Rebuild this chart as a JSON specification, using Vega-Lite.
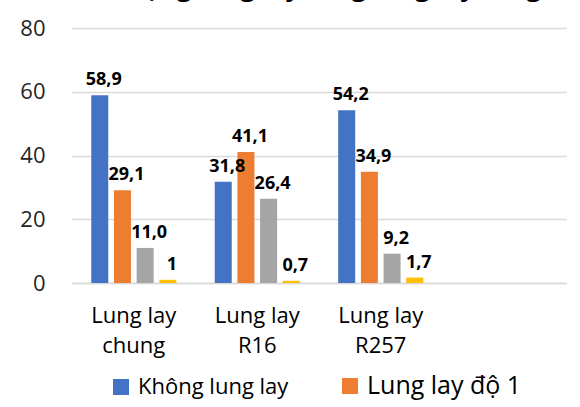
{
  "$schema": "https://vega.github.io/schema/vega-lite/v6.json",
  "autosize": {"type": "none"},
  "width": 494,
  "height": 255,
  "padding": {"left": 72, "top": 28, "right": 14, "bottom": 124},
  "background": "white",
  "config": {"view": {"stroke": null}},
  "title": {
    "text": "Tình trạng lung lay răng lung lay răng",
    "font": "Open Sans",
    "fontSize": 26,
    "fontWeight": "bold",
    "color": "#000000",
    "frame": "group",
    "anchor": "middle",
    "baseline": "alphabetic",
    "offset": 10,
    "dx": -20,
    "dy": 15
  },
  "data": {
    "values": [
      {"nhom": "Lung lay chung", "muc": "Không lung lay", "pt": 58.9, "nhan": "58,9"},
      {"nhom": "Lung lay chung", "muc": "Lung lay độ 1", "pt": 29.1, "nhan": "29,1"},
      {"nhom": "Lung lay chung", "muc": "Lung lay độ 2", "pt": 11.0, "nhan": "11,0"},
      {"nhom": "Lung lay chung", "muc": "Lung lay độ 3", "pt": 1.0, "nhan": "1"},
      {"nhom": "Lung lay R16", "muc": "Không lung lay", "pt": 31.8, "nhan": "31,8"},
      {"nhom": "Lung lay R16", "muc": "Lung lay độ 1", "pt": 41.1, "nhan": "41,1"},
      {"nhom": "Lung lay R16", "muc": "Lung lay độ 2", "pt": 26.4, "nhan": "26,4"},
      {"nhom": "Lung lay R16", "muc": "Lung lay độ 3", "pt": 0.7, "nhan": "0,7"},
      {"nhom": "Lung lay R257", "muc": "Không lung lay", "pt": 54.2, "nhan": "54,2"},
      {"nhom": "Lung lay R257", "muc": "Lung lay độ 1", "pt": 34.9, "nhan": "34,9"},
      {"nhom": "Lung lay R257", "muc": "Lung lay độ 2", "pt": 9.2, "nhan": "9,2"},
      {"nhom": "Lung lay R257", "muc": "Lung lay độ 3", "pt": 1.7, "nhan": "1,7"}
    ]
  },
  "encoding": {
    "x": {
      "field": "nhom",
      "type": "nominal",
      "scale": {
        "domain": ["Lung lay chung", "Lung lay R16", "Lung lay R257", " "],
        "paddingInner": 0.265,
        "paddingOuter": 0.133
      },
      "axis": {
        "title": null,
        "grid": false,
        "domain": true,
        "domainColor": "#D9D9D9",
        "domainWidth": 1.5,
        "ticks": false,
        "labelAngle": 0,
        "labelFont": "Open Sans",
        "labelFontSize": 22,
        "labelColor": "#000000",
        "labelPadding": 22,
        "labelLineHeight": 30,
        "labelExpr": "[slice(datum.label, 0, 8), slice(datum.label, 9)]"
      }
    },
    "xOffset": {
      "field": "muc",
      "type": "nominal",
      "sort": ["Không lung lay", "Lung lay độ 1", "Lung lay độ 2", "Lung lay độ 3"],
      "scale": {"paddingInner": 0.25, "paddingOuter": 0.125}
    },
    "y": {
      "field": "pt",
      "type": "quantitative",
      "scale": {"domain": [0, 80], "nice": false},
      "axis": {
        "title": null,
        "values": [0, 20, 40, 60, 80],
        "domain": false,
        "ticks": false,
        "grid": true,
        "gridColor": "#D9D9D9",
        "gridWidth": 1.5,
        "labelFont": "Open Sans",
        "labelFontSize": 22,
        "labelColor": "#262626",
        "labelPadding": 27
      }
    }
  },
  "layer": [
    {
      "mark": {"type": "bar"},
      "encoding": {
        "color": {
          "field": "muc",
          "type": "nominal",
          "scale": {
            "domain": ["Không lung lay", "Lung lay độ 1", "Lung lay độ 2", "Lung lay độ 3"],
            "range": ["#4472C4", "#ED7D31", "#A5A5A5", "#FFC000"]
          },
          "legend": {
            "title": null,
            "values": ["Không lung lay", "Lung lay độ 1"],
            "orient": "none",
            "legendX": 38,
            "legendY": 347,
            "direction": "horizontal",
            "columns": 2,
            "symbolType": "square",
            "symbolSize": 256,
            "symbolStrokeWidth": 0,
            "labelFont": "Open Sans",
            "labelFontSize": 22,
            "labelColor": "#000000",
            "labelOffset": 6,
            "labelLimit": 300,
            "columnPadding": 50,
            "encode": {
              "labels": {
                "update": {
                  "fontSize": {"signal": "datum.value === 'Lung lay độ 1' ? 25 : 22"}
                }
              }
            }
          }
        }
      }
    },
    {
      "mark": {
        "type": "text",
        "font": "Open Sans",
        "fontSize": 18,
        "fontWeight": "bold",
        "baseline": "bottom",
        "dy": -6,
        "dx": 4,
        "color": "#000000"
      },
      "encoding": {
        "text": {"field": "nhan"}
      }
    }
  ]
}
